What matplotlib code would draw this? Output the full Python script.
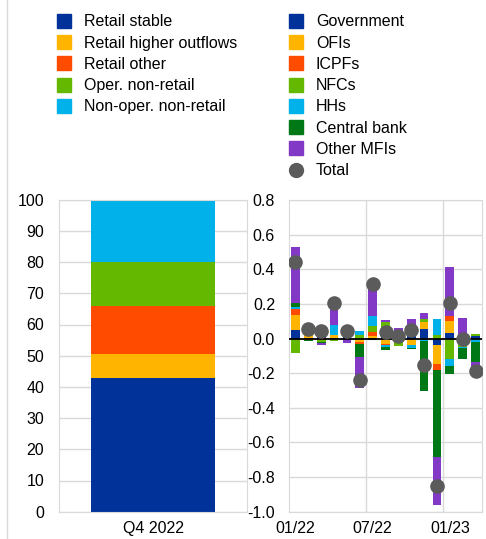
import numpy as np
import matplotlib
matplotlib.use('Agg')
import matplotlib.pyplot as plt
from matplotlib.lines import Line2D

plt.rc('font', family='Liberation Sans', size=11.5)

# left panel: composition of retail / non-retail deposits (Q4 2022, %)
left_cats = ['Retail stable', 'Retail higher outflows', 'Retail other',
             'Oper. non-retail', 'Non-oper. non-retail']
left_vals = [43.0, 7.5, 15.5, 14.0, 20.0]

# right panel: monthly flows by counterpart
months = ['01/22', '02/22', '03/22', '04/22', '05/22', '06/22', '07/22', '08/22',
          '09/22', '10/22', '11/22', '12/22', '01/23', '02/23', '03/23']
gov   = [0.048, 0.005, 0.010, 0.003, 0.030, 0.000, 0.005, 0.030, 0.015, 0.030, 0.055, -0.038, 0.033, 0.000, 0.012]
ofis  = [0.087, 0.015, 0.020, 0.015, 0.010, -0.018, 0.010, -0.030, 0.015, -0.040, 0.040, -0.110, 0.067, -0.020, 0.000]
icpfs = [0.033, -0.008, -0.008, 0.004, 0.003, -0.012, 0.020, -0.006, -0.008, 0.012, 0.000, -0.032, 0.029, -0.012, 0.000]
nfcs  = [-0.083, 0.020, -0.010, -0.012, 0.005, 0.020, 0.035, 0.065, -0.037, 0.025, 0.015, 0.020, -0.121, -0.015, 0.013]
hhs   = [0.012, 0.012, 0.045, 0.058, 0.020, 0.025, 0.060, -0.014, 0.015, -0.012, -0.015, 0.090, -0.039, -0.010, -0.020]
cb    = [0.027, -0.004, -0.005, 0.000, -0.003, -0.075, -0.010, -0.015, 0.000, -0.008, -0.290, -0.506, -0.046, -0.064, -0.115]
mfis  = [0.320, 0.015, -0.012, 0.142, -0.020, -0.180, 0.190, 0.010, 0.017, 0.045, 0.040, -0.277, 0.285, 0.116, -0.080]
total = [0.443, 0.057, 0.042, 0.208, 0.045, -0.240, 0.315, 0.038, 0.015, 0.052, -0.150, -0.853, 0.206, -0.004, -0.190]

right_names = ['Government', 'OFIs', 'ICPFs', 'NFCs', 'HHs', 'Central bank', 'Other MFIs']

blue, yellow, red = '#003299', '#FFB400', '#FF4B00'
green, cyan, dgreen, purple = '#65B800', '#00B1EA', '#007816', '#8139C6'
left_cols = [blue, yellow, red, green, cyan]
right_cols = [blue, yellow, red, green, cyan, dgreen, purple]
grid_c = '#d9d9d9'
dot_c = '#5b5b5b'

fig = plt.figure(figsize=(4.86, 5.39), dpi=100)
W, H = 486.0, 539.0

# ---- left panel
ax1 = fig.add_axes([59.3 / W, 27.3 / H, 187.4 / W, 312.0 / H])
bottom = 0.0
for v, c in zip(left_vals, left_cols):
    ax1.bar(0, v, width=1.0, bottom=bottom, color=c, zorder=2)
    bottom += v
ax1.set_xlim(-0.75, 0.75)
ax1.set_ylim(0, 100)
ax1.set_yticks(np.arange(0, 101, 10))
ax1.set_xticks([0])
ax1.set_xticklabels(['Q4 2022'])
ax1.yaxis.grid(True, color=grid_c, lw=1)
ax1.set_axisbelow(True)
ax1.tick_params(length=0, pad=7)
ax1.tick_params(axis='y', pad=11)
for s in ax1.spines.values():
    s.set_color(grid_c)

# ---- right panel
ax2 = fig.add_axes([289.0 / W, 27.3 / H, 193.0 / W, 311.7 / H])
x = np.arange(len(months))
pos_base = np.zeros(len(months))
neg_base = np.zeros(len(months))
for vals, c in zip([gov, ofis, icpfs, nfcs, hhs, cb, mfis], right_cols):
    v = np.array(vals)
    p = np.where(v > 0, v, 0)
    n = np.where(v < 0, v, 0)
    ax2.bar(x, p, width=0.68, bottom=pos_base, color=c, zorder=2)
    ax2.bar(x, n, width=0.68, bottom=neg_base, color=c, zorder=2)
    pos_base += p
    neg_base += n
ax2.axhline(0, color='black', lw=1.3, zorder=3)
ax2.plot(x, total, 'o', color=dot_c, ms=9.5, zorder=4)
ax2.set_xlim(-0.5, len(months) - 0.5)
ax2.set_ylim(-1.0, 0.8)
yt = np.round(np.arange(-1.0, 0.81, 0.2), 1)
ax2.set_yticks(yt)
ax2.set_yticklabels(['%.1f' % abs(t) if t == 0 else '%.1f' % t for t in yt])
ax2.set_xticks([0, 6, 12])
ax2.set_xticklabels([months[0], months[6], months[12]])
ax2.set_xticks([5.5, 11.5], minor=True)
ax2.yaxis.grid(True, color=grid_c, lw=1)
ax2.xaxis.grid(True, which='minor', color=grid_c, lw=1)
ax2.set_axisbelow(True)
ax2.tick_params(which='both', length=0, pad=7)
ax2.tick_params(axis='y', pad=10)
for s in ax2.spines.values():
    s.set_color(grid_c)

# ---- legends
h_left = [Line2D([], [], marker='s', ls='none', color=c, ms=10) for c in left_cols]
h_right = [Line2D([], [], marker='s', ls='none', color=c, ms=10) for c in right_cols]
h_right.append(Line2D([], [], marker='o', ls='none', color=dot_c, ms=10))
kw = dict(loc='upper left', frameon=False, borderpad=0, borderaxespad=0,
          handlelength=1.0, handletextpad=0.75, labelspacing=0.39)
fig.legend(h_left, left_cats, bbox_to_anchor=(56 / W, 1 - 14.5 / H), **kw)
fig.legend(h_right, right_names + ['Total'], bbox_to_anchor=(288 / W, 1 - 14.5 / H), **kw)

# thin separator at the left edge
fig.add_artist(Line2D([6.5 / W, 6.5 / W], [0, 1], color=grid_c, lw=1))

fig.savefig('out.png', dpi=100)
